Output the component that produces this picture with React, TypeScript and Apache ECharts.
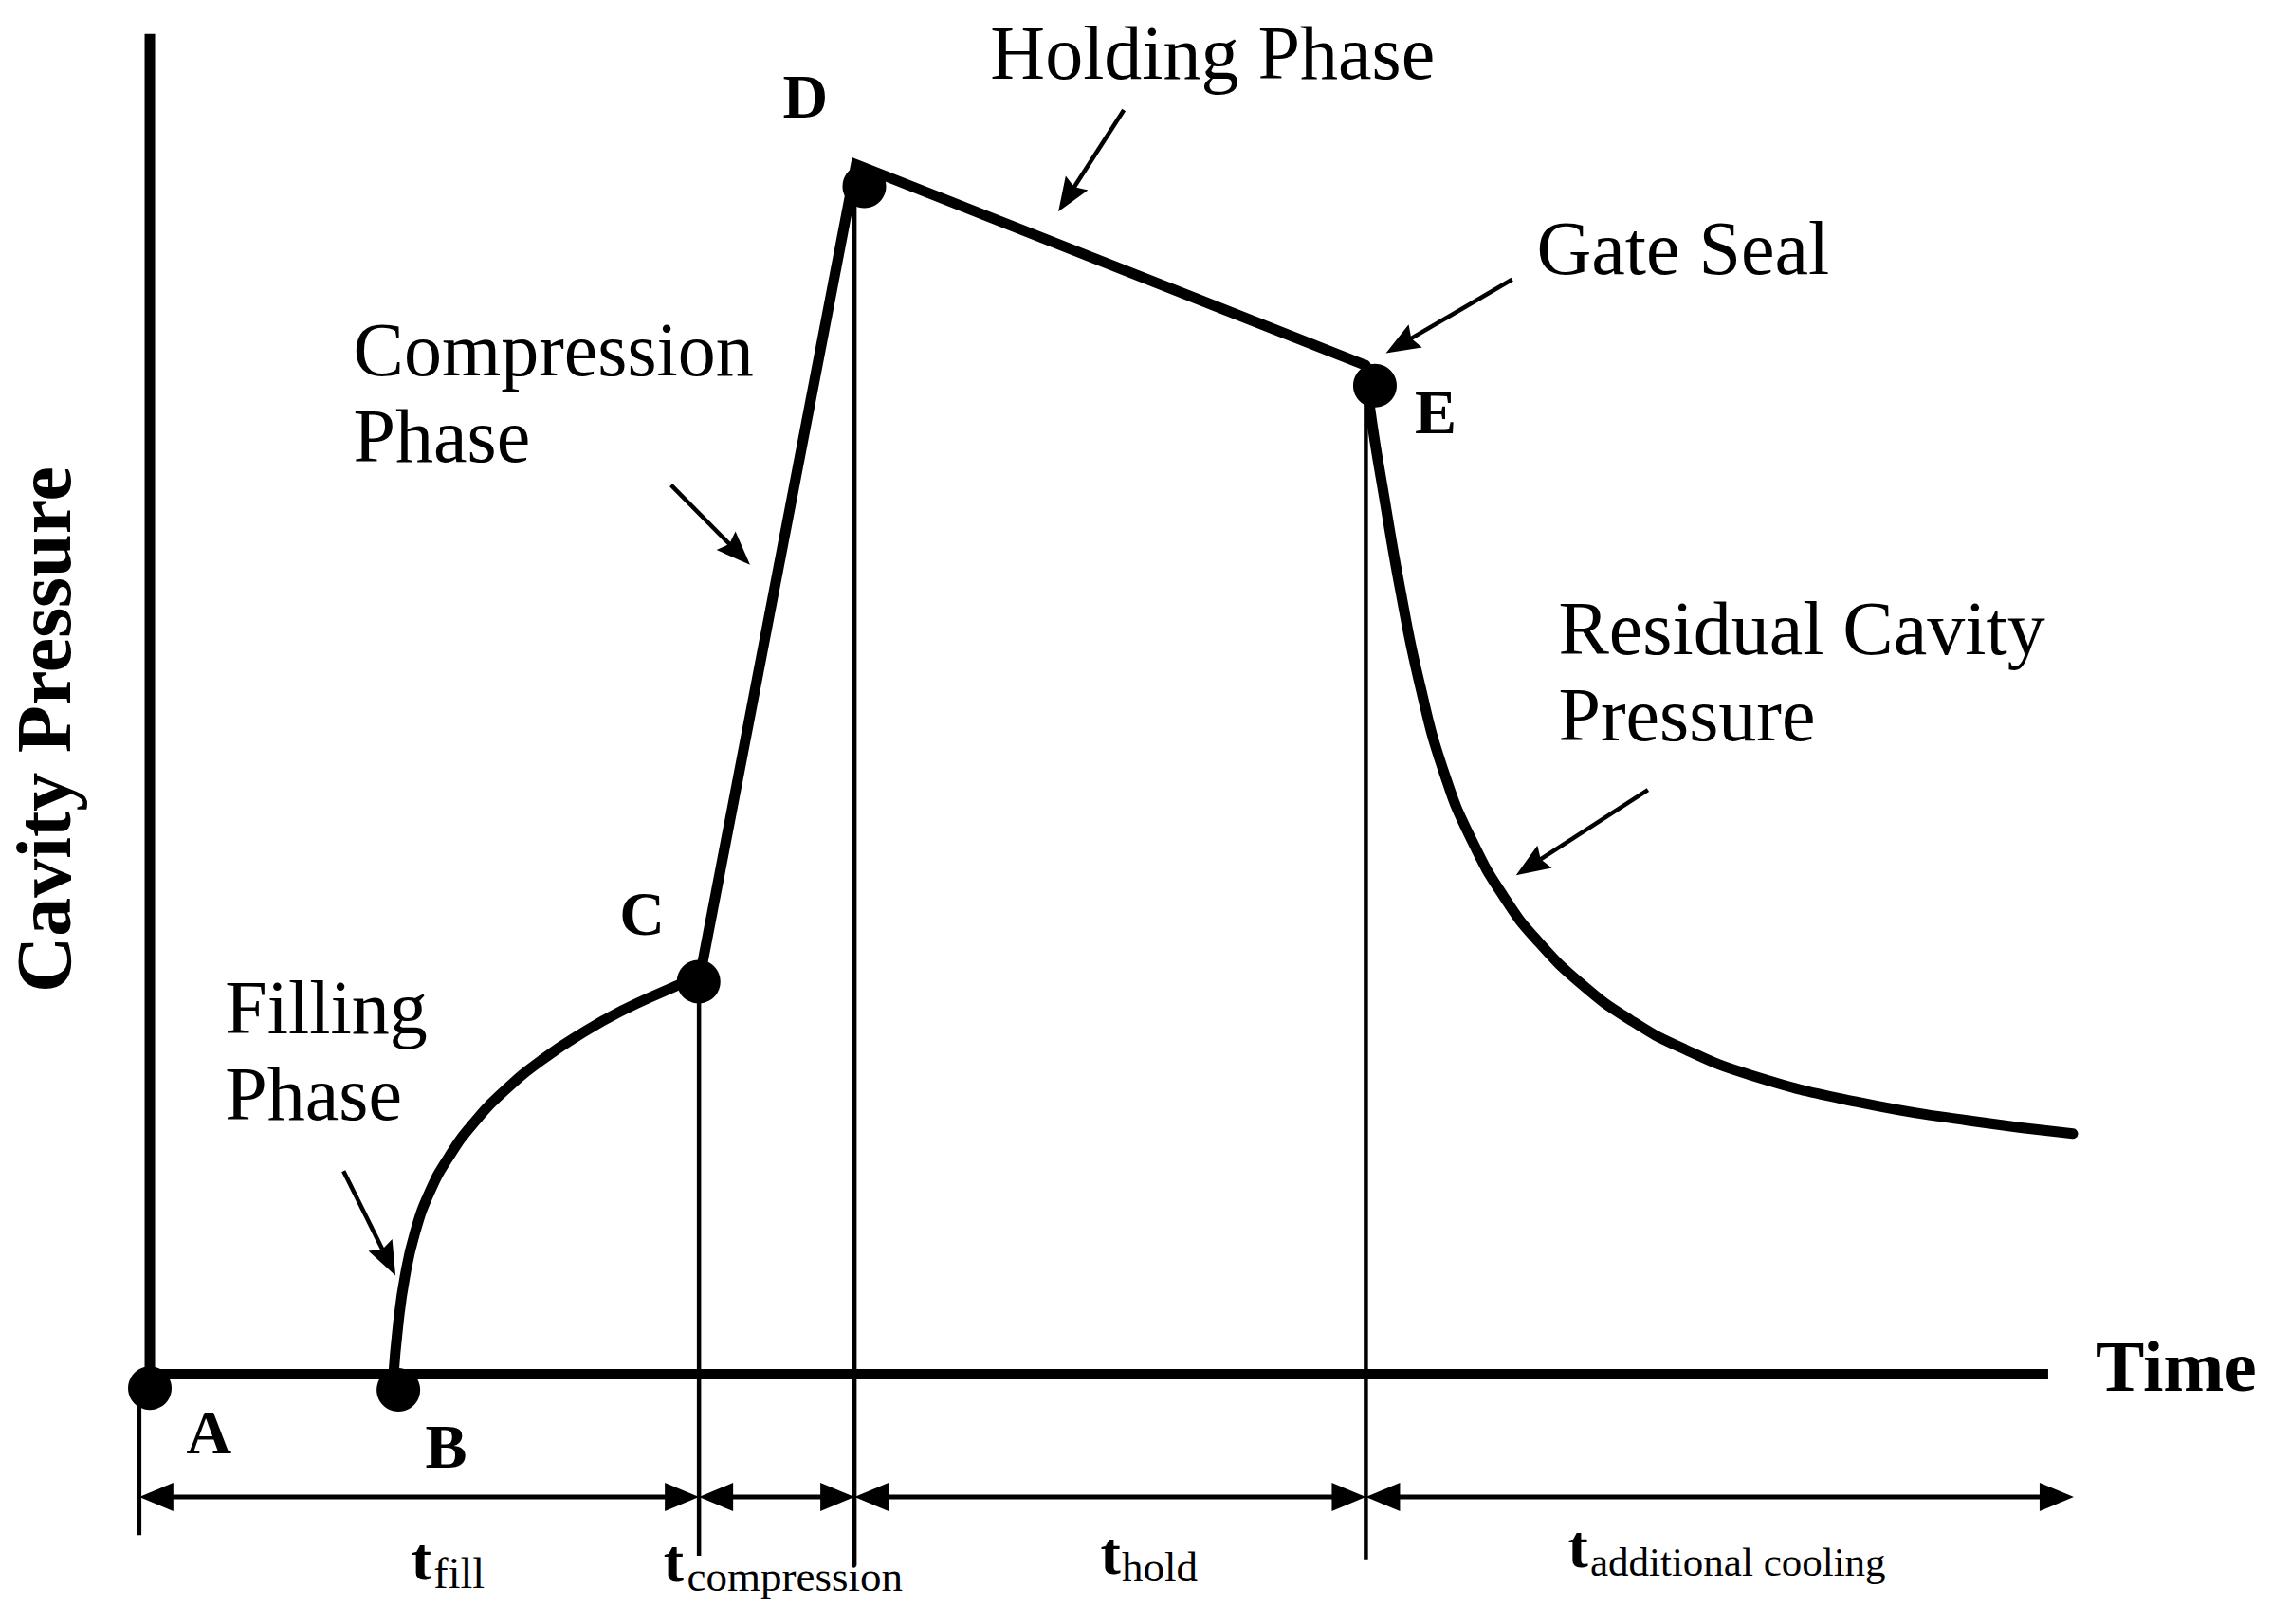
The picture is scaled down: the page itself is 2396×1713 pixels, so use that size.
import React, { useEffect, useRef } from "react";
import * as echarts from "echarts";

const SERIF = '"Liberation Serif", "Times New Roman", Times, serif';

// ---- Curve readings: [time, cavity pressure] in relative units (A = origin, D peak ≈ 100) ----
const fillingCurve: number[][] = [
  [12.67, -0.6], [12.94, 4.17], [13.29, 8.08], [13.81, 11.7], [14.58, 15.08],
  [15.59, 18.02], [16.83, 20.72], [18.44, 23.41], [20.41, 26.0], [22.67, 28.38],
  [24.64, 30.12], [26.55, 31.53], [28.6, 32.9],
];
const compressionHolding: number[][] = [[28.6, 32.9], [36.7, 100.0], [63.15, 83.4]];
const residualCurve: number[][] = [
  [63.15, 83.4], [63.39, 79.64], [64.12, 72.42], [64.95, 64.82], [65.93, 57.22],
  [67.24, 49.62], [68.72, 43.93], [70.36, 39.37], [72.0, 35.95], [74.44, 32.13],
  [76.92, 29.25], [79.47, 27.03], [83.16, 24.71], [88.8, 22.46], [94.44, 20.96],
  [99.85, 19.88],
];

// ---- Key points A–E ----
const pointNames = ["A", "B", "C", "D", "E"];
const pointDots: number[][] = [[0.05, -1.15], [12.95, -1.3], [28.53, 32.45], [37.13, 98.2], [63.63, 81.72]];
const pointLabelAt: number[][] = [[3.12, -4.8], [15.43, -5.92], [25.59, 38.05], [34.07, 105.64], [66.78, 79.57]];

// ---- Axes (drawn as segments) ----
const pressureAxisTop = 110.8;
const timeAxisEnd = 98.57;
const axisSegments: number[][] = [
  [0.05, pressureAxisTop, 0.05, -1.0],
  [0.05, 0, timeAxisEnd, 0],
];

// ---- Phase boundaries and the duration row ----
const phaseEdges = [-0.5, 28.55, 36.62, 63.16, 99.9];
const guideTops = [-1.2, 32.9, 100.0, 83.4];
const guideBottoms = [-13.3, -15.0, -15.8, -15.3];
const durationLevel = -10.15;
const durationNames = ["fill", "compression", "hold", "additional cooling"];
const durationTAt: number[][] = [[13.62, -15.27], [26.71, -15.45], [49.39, -14.8], [73.65, -14.25]];
const durationSubAt: number[][] = [[14.78, -16.46], [27.93, -16.74], [50.49, -15.93], [74.8, -15.5]];

// ---- Phase annotations ----
const noteTexts = ["Holding Phase", "Gate Seal", "Compression\nPhase", "Filling\nPhase", "Residual Cavity\nPressure"];
const noteAt: number[][] = [[43.67, 109.19], [72.02, 93.06], [10.61, 81.15], [3.95, 26.72], [73.15, 58.09]];
const noteArrows: number[][] = [
  [50.6, 104.5, 47.2, 96.1],
  [70.75, 90.5, 64.2, 84.4],
  [27.1, 73.5, 31.2, 66.9],
  [10.1, 16.8, 12.8, 8.15],
  [77.8, 48.3, 70.95, 41.25],
];

const axisTitles = { x: "Time", y: "Cavity Pressure" };
const xAt = [101.03, 0.7];
const yAt = [-5.43, 53.29];

function makeArrow(headLen: number, headHalf: number, notch: number, width: number) {
  return (_params: any, api: any) => {
    const a = api.coord([api.value(0), api.value(1)]);
    const b = api.coord([api.value(2), api.value(3)]);
    const both = api.value(4) === 1;
    const dx = b[0] - a[0];
    const dy = b[1] - a[1];
    const L = Math.hypot(dx, dy) || 1;
    const ux = dx / L;
    const uy = dy / L;
    const nx = -uy;
    const ny = ux;
    const head = (t: number[], sx: number, sy: number) => ({
      type: "polygon",
      shape: {
        points: [
          [t[0], t[1]],
          [t[0] - sx * headLen + nx * headHalf, t[1] - sy * headLen + ny * headHalf],
          [t[0] - sx * (headLen - notch), t[1] - sy * (headLen - notch)],
          [t[0] - sx * headLen - nx * headHalf, t[1] - sy * headLen - ny * headHalf],
        ],
      },
      style: { fill: "#000" },
    });
    const inset = headLen - notch - 1;
    const s = both ? [a[0] + ux * inset, a[1] + uy * inset] : a;
    const e = [b[0] - ux * inset, b[1] - uy * inset];
    const children: any[] = [
      { type: "line", shape: { x1: s[0], y1: s[1], x2: e[0], y2: e[1] }, style: { stroke: "#000", lineWidth: width } },
      head(b, ux, uy),
    ];
    if (both) children.push(head(a, -ux, -uy));
    return { type: "group", children };
  };
}

function makeSegments(width: number) {
  return (_params: any, api: any) => {
    const a = api.coord([api.value(0), api.value(1)]);
    const b = api.coord([api.value(2), api.value(3)]);
    return {
      type: "line",
      shape: { x1: a[0], y1: a[1], x2: b[0], y2: b[1] },
      style: { stroke: "#000", lineWidth: width, lineCap: "butt" },
    };
  };
}

function textItem(value: number[], text: string, opts: any) {
  return {
    value,
    label: {
      show: true,
      position: "inside",
      formatter: text,
      color: "#000",
      opacity: 1,
      fontFamily: SERIF,
      align: "left",
      verticalAlign: "middle",
      ...opts,
    },
  };
}

export default function App() {
  const ref = useRef<HTMLDivElement>(null);

  useEffect(() => {
    if (!ref.current) return;
    const chart = echarts.init(ref.current, undefined, { renderer: "svg" });

    const guides = phaseEdges.slice(0, 4).map((x, i) => [x, guideTops[i], x, guideBottoms[i]]);
    const durationArrows = phaseEdges.slice(0, 4).map((x, i) => [x, durationLevel, phaseEdges[i + 1], durationLevel, 1]);
    const annotationArrows = noteArrows.map((r) => [...r, 0]);

    const labels: any[] = [];
    noteTexts.forEach((t, i) => {
      labels.push(textItem(noteAt[i], t, { fontSize: 80, lineHeight: 91 }));
    });
    pointNames.forEach((n, i) => {
      labels.push(textItem(pointLabelAt[i], n, { fontSize: 66, fontWeight: "bold", align: "center" }));
    });
    durationNames.forEach((n, i) => {
      labels.push(textItem(durationTAt[i], "t", { fontSize: 64, fontWeight: "bold" }));
      labels.push(textItem(durationSubAt[i], n, { fontSize: n === "fill" ? 46 : n === "additional cooling" ? 43 : 45 }));
    });
    labels.push(textItem(xAt, axisTitles.x, { fontSize: 77, fontWeight: "bold" }));
    labels.push(textItem(yAt, axisTitles.y, { fontSize: 82, fontWeight: "bold", align: "center", rotate: 90 }));

    const lineCommon = {
      type: "line",
      showSymbol: false,
      symbol: "none",
      silent: true,
      clip: false,
      z: 3,
      emphasis: { disabled: true },
    };

    chart.setOption({
      animation: false,
      backgroundColor: "#fff",
      textStyle: { fontFamily: SERIF },
      grid: { left: 14.76, right: 3.8, top: 7.62, bottom: 1.9, containLabel: false },
      xAxis: {
        type: "value",
        min: -7,
        max: 110,
        show: false,
        splitLine: { show: false },
      },
      yAxis: {
        type: "value",
        min: -20.5,
        max: 113,
        show: false,
        splitLine: { show: false },
      },
      series: [
        {
          type: "custom",
          name: "axes",
          renderItem: makeSegments(11),
          data: axisSegments,
          clip: false,
          silent: true,
          z: 2,
        },
        {
          type: "custom",
          name: "guides",
          renderItem: makeSegments(4.5),
          data: guides,
          clip: false,
          silent: true,
          z: 2,
        },
        {
          type: "custom",
          name: "durations",
          renderItem: makeArrow(36, 15, 0, 5),
          data: durationArrows,
          clip: false,
          silent: true,
          z: 2,
        },
        {
          type: "custom",
          name: "notes",
          renderItem: makeArrow(36, 14, 5, 4.5),
          data: annotationArrows,
          clip: false,
          silent: true,
          z: 2,
        },
        {
          ...lineCommon,
          name: "Filling",
          data: fillingCurve,
          smooth: 0.5,
          smoothMonotone: "none",
          lineStyle: { color: "#000", width: 11, cap: "round", opacity: 1 },
        },
        {
          ...lineCommon,
          name: "Compression / Holding",
          data: compressionHolding,
          smooth: false,
          lineStyle: { color: "#000", width: 11, join: "miter", opacity: 1 },
        },
        {
          ...lineCommon,
          name: "Residual",
          data: residualCurve,
          smooth: 0.5,
          smoothMonotone: "none",
          lineStyle: { color: "#000", width: 11, cap: "round", opacity: 1 },
        },
        {
          type: "scatter",
          name: "points",
          data: pointDots,
          symbol: "circle",
          symbolSize: 46,
          itemStyle: { color: "#000", opacity: 1 },
          silent: true,
          clip: false,
          z: 4,
          emphasis: { disabled: true },
        },
        {
          type: "scatter",
          name: "labels",
          data: labels,
          symbolSize: 1,
          itemStyle: { color: "rgba(0,0,0,0)", opacity: 1 },
          silent: true,
          clip: false,
          z: 5,
          emphasis: { disabled: true },
        },
      ],
    });

    return () => chart.dispose();
  }, []);

  return (
    <div
      ref={ref}
      style={{ position: "fixed", left: 0, top: 0, width: "100vw", height: "100vh", background: "#fff" }}
    />
  );
}
